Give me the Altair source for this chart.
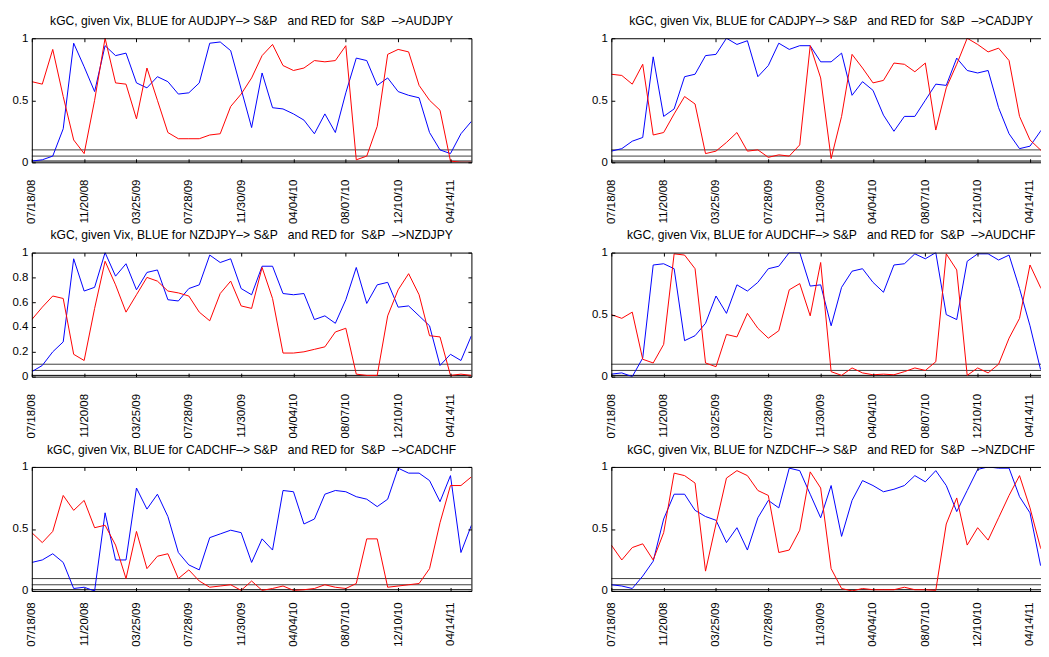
import altair as alt
import pandas as pd

# ---------------- data ----------------
idx = list(range(43))
tick_labels = ["07/18/08", "11/20/08", "03/25/09", "07/28/09", "11/30/09",
               "04/04/10", "08/07/10", "12/10/10", "04/14/11"]
tick_idx = [5 * k for k in range(len(tick_labels))]
pairs = ["AUDJPY", "CADJPY", "NZDJPY", "AUDCHF", "CADCHF", "NZDCHF"]
thresholds = [0.1, 0.05, 0.01]

blue_AUDJPY = [0.01, 0.02, 0.05, 0.27, 0.96, 0.77, 0.57, 0.94, 0.86, 0.88,
               0.64, 0.60, 0.69, 0.65, 0.55, 0.56, 0.64, 0.96, 0.97, 0.90,
               0.59, 0.28, 0.72, 0.44, 0.43, 0.39, 0.34, 0.23, 0.39, 0.24,
               0.56, 0.84, 0.82, 0.62, 0.68, 0.57, 0.54, 0.52, 0.24, 0.10,
               0.07, 0.23, 0.33]
red_AUDJPY = [0.65, 0.63, 0.91, 0.53, 0.18, 0.07, 0.50, 1.00, 0.64, 0.63,
              0.35, 0.76, 0.50, 0.24, 0.19, 0.19, 0.19, 0.22, 0.23, 0.45,
              0.55, 0.68, 0.86, 0.95, 0.78, 0.74, 0.76, 0.82, 0.81, 0.82,
              0.94, 0.02, 0.05, 0.29, 0.87, 0.91, 0.89, 0.62, 0.50, 0.42,
              0.01, 0.00, 0.00]

blue_CADJPY = [0.09, 0.11, 0.17, 0.20, 0.85, 0.37, 0.43, 0.69, 0.71, 0.86,
               0.87, 1.00, 0.95, 0.98, 0.69, 0.78, 0.96, 0.91, 0.94, 0.94,
               0.81, 0.81, 0.88, 0.54, 0.65, 0.58, 0.38, 0.25, 0.37, 0.37,
               0.50, 0.63, 0.62, 0.84, 0.74, 0.72, 0.74, 0.44, 0.23, 0.11,
               0.13, 0.25, 0.35]
red_CADJPY = [0.71, 0.70, 0.63, 0.79, 0.22, 0.24, 0.39, 0.53, 0.47, 0.07,
              0.09, 0.16, 0.24, 0.09, 0.10, 0.04, 0.06, 0.05, 0.14, 0.94,
              0.68, 0.03, 0.37, 0.87, 0.76, 0.64, 0.66, 0.80, 0.79, 0.73,
              0.80, 0.26, 0.60, 0.79, 1.00, 0.95, 0.89, 0.92, 0.82, 0.37,
              0.18, 0.10, 0.05]

blue_NZDJPY = [0.04, 0.09, 0.20, 0.28, 0.95, 0.69, 0.72, 1.00, 0.81, 0.91,
               0.70, 0.84, 0.86, 0.62, 0.61, 0.71, 0.74, 0.98, 0.92, 0.95,
               0.71, 0.66, 0.89, 0.89, 0.67, 0.66, 0.67, 0.46, 0.49, 0.43,
               0.62, 0.88, 0.59, 0.74, 0.76, 0.56, 0.57, 0.49, 0.41, 0.09,
               0.18, 0.13, 0.33]
red_NZDJPY = [0.46, 0.56, 0.65, 0.63, 0.18, 0.13, 0.55, 0.93, 0.74, 0.52,
              0.66, 0.80, 0.77, 0.69, 0.675, 0.65, 0.52, 0.45, 0.67, 0.77,
              0.57, 0.55, 0.88, 0.63, 0.19, 0.19, 0.20, 0.22, 0.24, 0.36,
              0.39, 0.02, 0.01, 0.01, 0.49, 0.70, 0.83, 0.66, 0.33, 0.32,
              0.01, 0.02, 0.01]

blue_AUDCHF = [0.02, 0.03, 0.00, 0.15, 0.90, 0.91, 0.87, 0.29, 0.33, 0.43,
               0.65, 0.51, 0.74, 0.69, 0.76, 0.87, 0.89, 1.00, 1.00, 0.73,
               0.74, 0.41, 0.72, 0.85, 0.87, 0.76, 0.68, 0.90, 0.91, 0.99,
               0.95, 1.00, 0.50, 0.46, 0.93, 0.99, 0.99, 0.94, 0.98, 0.71,
               0.41, 0.06, 0.02]
red_AUDCHF = [0.50, 0.47, 0.52, 0.14, 0.11, 0.26, 0.99, 0.98, 0.87, 0.11,
              0.08, 0.34, 0.32, 0.51, 0.39, 0.31, 0.37, 0.70, 0.75, 0.49,
              0.92, 0.04, 0.01, 0.07, 0.03, 0.015, 0.02, 0.015, 0.04, 0.07,
              0.05, 0.12, 0.99, 0.86, 0.01, 0.07, 0.03, 0.10, 0.31, 0.47,
              0.90, 0.72, 0.60]

blue_CADCHF = [0.23, 0.25, 0.30, 0.23, 0.02, 0.03, 0.00, 0.63, 0.25, 0.25,
               0.83, 0.66, 0.78, 0.60, 0.31, 0.21, 0.17, 0.43, 0.46, 0.49,
               0.47, 0.23, 0.42, 0.33, 0.81, 0.80, 0.54, 0.58, 0.78, 0.81,
               0.80, 0.76, 0.74, 0.68, 0.74, 0.99, 0.95, 0.95, 0.89, 0.72,
               0.93, 0.31, 0.53]
red_CADCHF = [0.47, 0.39, 0.48, 0.77, 0.65, 0.73, 0.51, 0.53, 0.37, 0.10,
              0.48, 0.18, 0.28, 0.30, 0.10, 0.17, 0.08, 0.03, 0.04, 0.05,
              0.005, 0.08, 0.005, 0.02, 0.04, 0.005, 0.01, 0.02, 0.05, 0.03,
              0.02, 0.06, 0.42, 0.42, 0.03, 0.04, 0.05, 0.06, 0.18, 0.55,
              0.85, 0.85, 0.92]

blue_NZDCHF = [0.05, 0.04, 0.02, 0.12, 0.24, 0.58, 0.78, 0.78, 0.65, 0.60,
               0.57, 0.39, 0.51, 0.33, 0.59, 0.73, 0.67, 0.99, 0.97, 0.78,
               0.59, 0.85, 0.44, 0.73, 0.89, 0.85, 0.80, 0.82, 0.85, 0.93,
               0.88, 0.97, 0.85, 0.64, 0.81, 0.98, 1.00, 0.99, 0.99, 0.76,
               0.63, 0.21, 0.10]
red_NZDCHF = [0.37, 0.25, 0.35, 0.38, 0.25, 0.47, 0.95, 0.93, 0.87, 0.16,
              0.54, 0.91, 0.97, 0.93, 0.81, 0.77, 0.31, 0.33, 0.49, 0.96,
              0.83, 0.18, 0.02, 0.00, 0.02, 0.01, 0.01, 0.01, 0.03, 0.01,
              0.01, 0.005, 0.54, 0.75, 0.37, 0.51, 0.41, 0.59, 0.77, 0.93,
              0.67, 0.35, 0.20]

blue_series = [blue_AUDJPY, blue_CADJPY, blue_NZDJPY, blue_AUDCHF, blue_CADCHF, blue_NZDCHF]
red_series = [red_AUDJPY, red_CADJPY, red_NZDJPY, red_AUDCHF, red_CADCHF, red_NZDCHF]
y_ticks = [[0, 0.5, 1], [0, 0.5, 1], [0, 0.2, 0.4, 0.6, 0.8, 1],
           [0, 0.5, 1], [0, 0.5, 1], [0, 0.5, 1]]

# ---------------- style ----------------
FONT = "Liberation Sans"
FS = 11.5
FS_TITLE = 12.2
W, H = 443, 125
label_expr = "[" + ",".join("'%s'" % s for s in tick_labels) + "][round(datum.value/5)]"


def panel(pair, blue, red, yt, label_pad):
    df = pd.DataFrame({"i": idx, "blue": blue, "red": red})
    rules = pd.DataFrame({"t": thresholds, "x0": idx[0], "x1": idx[-1]})
    xs = alt.Scale(domain=[idx[0], idx[-1]], nice=False, zero=False)
    ys = alt.Scale(domain=[0, 1], nice=False)

    frame = dict(domain=True, domainColor="black", domainWidth=1)
    noframe = dict(domain=False)
    common = dict(grid=False, title=None)
    tick_style = dict(ticks=True, tickSize=3.5, tickColor="black", tickWidth=1,
                      labels=False, zindex=1)

    x_main = alt.Axis(orient="bottom", values=tick_idx, labelExpr=label_expr,
                      labelAngle=-90, ticks=False, labelPadding=label_pad,
                      labelFont=FONT, labelFontSize=FS, labelColor="black",
                      zindex=1, **frame, **common)
    y_main = alt.Axis(orient="left", values=yt, format="~g", ticks=False,
                      labelPadding=4, labelFont=FONT, labelFontSize=FS,
                      labelColor="black", zindex=1, **frame, **common)
    x_in_bottom = alt.Axis(orient="top", offset=-H, values=tick_idx,
                           **tick_style, **noframe, **common)
    x_in_top = alt.Axis(orient="bottom", offset=-H, values=tick_idx,
                        **tick_style, **frame, **common)
    y_in_left = alt.Axis(orient="right", offset=-W, values=yt,
                         **tick_style, **noframe, **common)
    y_in_right = alt.Axis(orient="left", offset=-W, values=yt,
                          **tick_style, **frame, **common)

    base = alt.Chart(df)
    blue_line = base.mark_line(color="#0000ff", strokeWidth=1, clip=True).encode(
        x=alt.X("i:Q", scale=xs, axis=x_main),
        y=alt.Y("blue:Q", scale=ys, axis=y_main),
    )
    red_line = base.mark_line(color="#ff0000", strokeWidth=1, clip=True).encode(
        x=alt.X("i:Q", scale=xs, axis=x_in_bottom),
        y=alt.Y("red:Q", scale=ys, axis=y_in_left),
    )
    rule = alt.Chart(rules).mark_rule(strokeWidth=1).encode(
        x=alt.X("x0:Q", scale=xs, axis=x_in_top),
        x2="x1:Q",
        y=alt.Y("t:Q", scale=ys, axis=y_in_right),
        color=alt.condition(alt.datum.t > 0.02, alt.value("#404040"), alt.value("black")),
    )
    title = ("kGC, given Vix, BLUE for %s\u2013> S&P\u00a0\u00a0 and RED for\u00a0 S&P\u00a0 \u2013>%s"
             % (pair, pair))
    return alt.layer(rule, blue_line, red_line).resolve_axis(
        x="independent", y="independent"
    ).properties(
        width=W, height=H,
        title=alt.TitleParams(title, font=FONT, fontSize=FS_TITLE, fontWeight="normal",
                              color="black", offset=5, anchor="middle"),
    )


label_pads = [17, 17, 17, 17, 11, 11]
panels = [panel(p, b, r, yt, lp) for p, b, r, yt, lp in
          zip(pairs, blue_series, red_series, y_ticks, label_pads)]

chart = alt.concat(
    *panels, columns=2, spacing={"row": 91, "column": 141}, bounds="flush"
).properties(
    autosize=alt.AutoSizeParams(type="none"),
    padding={"left": 24, "top": 28, "right": 1017, "bottom": 613},
).configure(
    background="white"
).configure_view(
    stroke=None
)

chart.save("out.html", embed_options={"renderer": "svg", "actions": False})
